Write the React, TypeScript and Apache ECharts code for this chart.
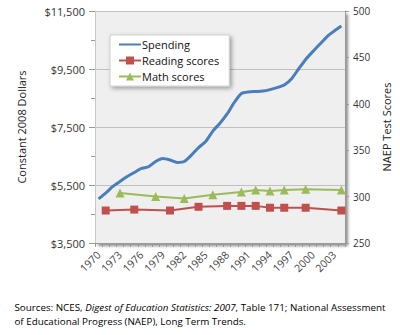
import React, { useEffect, useRef } from "react";
import * as echarts from "echarts";

const years: string[] = [];
for (let y = 1970; y <= 2004; y++) years.push(String(y));

const spending = [
  5020, 5220, 5450, 5620, 5790, 5930, 6070, 6130, 6310, 6410,
  6360, 6280, 6310, 6530, 6790, 7000, 7360, 7630, 7950, 8345,
  8655, 8710, 8725, 8740, 8790, 8860, 8950, 9155, 9500, 9830,
  10100, 10360, 10620, 10810, 10980,
];

const readingYears = ["1971", "1975", "1980", "1984", "1988", "1990", "1992", "1994", "1996", "1999", "2004"];
const readingScores = [285, 286, 285, 289, 290, 290, 290, 288, 288, 288, 285];

const mathYears = ["1973", "1978", "1982", "1986", "1990", "1992", "1994", "1996", "1999", "2004"];
const mathScores = [304, 300, 298, 302, 305, 307, 306, 307, 308, 307];

const FONT = "'Open Sans', 'Noto Sans', sans-serif";

export default function App() {
  const ref = useRef<HTMLDivElement>(null);
  useEffect(() => {
    if (!ref.current) return;
    const chart = echarts.init(ref.current, undefined, { renderer: "svg" });
    chart.setOption({
      animation: false,
      textStyle: { fontFamily: FONT },
      grid: {
        left: 95,
        right: 53,
        top: 11,
        bottom: 92,
        show: true,
        backgroundColor: "#efefef",
        borderWidth: 0,
        shadowColor: "rgba(0,0,0,0.45)",
        shadowBlur: 3,
        shadowOffsetX: 3,
        shadowOffsetY: 3,
      },
      legend: {
        orient: "vertical",
        left: 110,
        top: 35,
        backgroundColor: "#ffffff",
        borderColor: "#d0d0d0",
        borderWidth: 1,
        shadowColor: "rgba(0,0,0,0.35)",
        shadowBlur: 4,
        shadowOffsetX: 2,
        shadowOffsetY: 2,
        padding: [4, 10, 4, 8],
        itemGap: 5,
        itemWidth: 22,
        itemHeight: 10,
        textStyle: { fontSize: 11, color: "#111", fontFamily: FONT, padding: [0, 0, 0, -4] },
        data: [
          { name: "Spending", itemStyle: { opacity: 0 } },
          "Reading scores",
          "Math scores",
        ],
      },
      xAxis: {
        type: "category",
        data: years,
        boundaryGap: true,
        axisLine: { show: true, lineStyle: { color: "#9a9a9a" } },
        axisTick: { show: true, interval: 0, length: 4, lineStyle: { color: "#9a9a9a" } },
        axisLabel: {
          interval: 2,
          rotate: 45,
          fontSize: 10.5,
          color: "#444",
          fontFamily: FONT,
          margin: 10,
        },
      },
      yAxis: [
        {
          type: "value",
          min: 3500,
          max: 11500,
          interval: 2000,
          name: "Constant 2008 Dollars",
          nameLocation: "middle",
          nameGap: 68,
          nameTextStyle: { fontSize: 11, color: "#222", fontFamily: FONT },
          axisLine: { show: true, lineStyle: { color: "#c8c8c8" } },
          axisTick: { show: true, length: 6, lineStyle: { color: "#9a9a9a" } },
          minorTick: { show: true, splitNumber: 2, length: 4, lineStyle: { color: "#9a9a9a" } },
          splitLine: { show: true, lineStyle: { color: "#c0c0c0", width: 1 } },
          axisLabel: {
            fontSize: 11,
            color: "#333",
            fontFamily: FONT,
            margin: 10,
            formatter: (v: number) => "$" + v.toLocaleString("en-US"),
          },
        },
        {
          type: "value",
          min: 250,
          max: 500,
          interval: 50,
          position: "right",
          name: "NAEP Test Scores",
          nameLocation: "middle",
          nameGap: 36,
          nameRotate: 90,
          nameTextStyle: { fontSize: 11, color: "#222", fontFamily: FONT },
          axisLine: { show: true, lineStyle: { color: "#9a9a9a" } },
          axisTick: { show: true, length: 4, lineStyle: { color: "#9a9a9a" } },
          splitLine: { show: false },
          axisLabel: { fontSize: 10, color: "#333", fontFamily: FONT, margin: 8 },
        },
      ],
      series: [
        {
          name: "Reading scores",
          type: "line",
          yAxisIndex: 1,
          data: readingYears.map((y, i) => [y, readingScores[i]]),
          symbol: "rect",
          symbolSize: 8,
          showSymbol: true,
          showAllSymbol: true,
          lineStyle: { color: "#C0504D", width: 2 },
          itemStyle: { color: "#C0504D" },
          z: 3,
        },
        {
          name: "Math scores",
          type: "line",
          yAxisIndex: 1,
          data: mathYears.map((y, i) => [y, mathScores[i]]),
          symbol: "triangle",
          symbolSize: 9,
          showSymbol: true,
          showAllSymbol: true,
          lineStyle: { color: "#9BBB59", width: 2 },
          itemStyle: { color: "#9BBB59" },
          z: 3,
        },
        {
          name: "Spending",
          type: "line",
          yAxisIndex: 0,
          data: spending,
          showSymbol: false,
          symbol: "none",
          smooth: 0.2,
          lineStyle: { color: "#4A7EBB", width: 3 },
          itemStyle: { color: "#4A7EBB" },
          z: 4,
        },
      ],
      graphic: [
        {
          type: "text",
          left: "center",
          top: 300,
          style: {
            text:
              "{a|Sources: NCES, }{i|Digest of Education Statistics: 2007}{a|, Table 171; National Assessment}\n{a|of Educational Progress (NAEP), Long Term Trends.}",
            align: "center",
            lineHeight: 14,
            rich: {
              a: { fontSize: 9.8, fontFamily: FONT, color: "#333", lineHeight: 14 },
              i: { fontSize: 9.8, fontFamily: FONT, fontStyle: "italic", color: "#333", lineHeight: 14 },
            },
          },
        },
      ],
    });
    return () => chart.dispose();
  }, []);
  return (
    <div
      ref={ref}
      style={{ position: "fixed", left: 0, top: 0, width: 400, height: 335, background: "#fff" }}
    />
  );
}
